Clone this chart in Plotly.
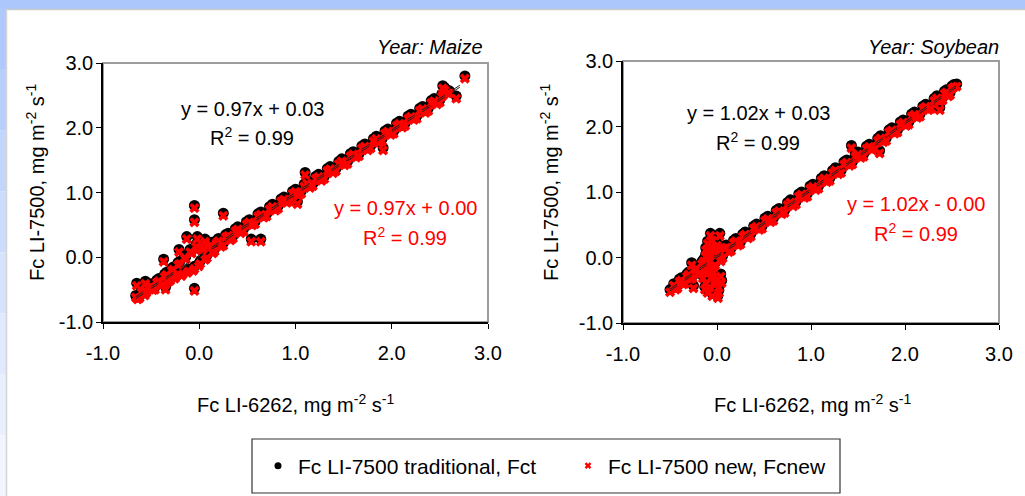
import plotly.graph_objects as go

W, H = 1025, 496

# ---------------- data ----------------
tick_vals = [-1, 0, 1, 2, 3]
tick_text = ["-1.0", "0.0", "1.0", "2.0", "3.0"]

# Maize: x = Fc LI-6262, y = Fc LI-7500 (traditional Fct and new Fcnew)
maize_x = [-0.66, -0.62, -0.58, -0.55, -0.50, -0.46, -0.42, -0.38, -0.34, -0.30,
           -0.27, -0.24, -0.20, -0.17, -0.14, -0.11, -0.08, -0.05, -0.02, 0.01,
           0.04, 0.08, 0.12, 0.16, 0.20, 0.25, 0.30, 0.35, 0.40, 0.46,
           0.52, 0.58, 0.64, 0.70, 0.76, 0.82, 0.88, 0.94, 1.00, 1.06,
           1.12, 1.18, 1.24, 1.30, 1.36, 1.42, 1.48, 1.54, 1.60, 1.66,
           1.72, 1.78, 1.84, 1.90, 1.96, 2.02, 2.08, 2.14, 2.20, 2.26,
           2.32, 2.38, 2.44, 2.50, 2.54, 2.58, 2.60,
           -0.64, -0.60, -0.565, -0.525, -0.48, -0.44, -0.40, -0.36, -0.32, -0.285,
           -0.255, -0.22, -0.185, -0.155, -0.125, -0.095, -0.065, -0.035, -0.005, 0.025,
           0.06, 0.10, 0.14, 0.18, 0.225, 0.275, 0.325, 0.375, 0.43, 0.49,
           0.55, 0.61, 0.67, 0.73, 0.79, 0.85, 0.91, 0.97, 1.03, 1.09,
           1.15, 1.21, 1.27, 1.33, 1.39, 1.45, 1.51, 1.57, 1.63, 1.69,
           1.75, 1.81, 1.87, 1.93, 1.99, 2.05, 2.11, 2.17, 2.23, 2.29,
           2.35, 2.41, 2.47, 2.52,
           -0.05, -0.05, 0.25, 0.54, 0.64, -0.05, -0.37, -0.21, -0.13, -0.02,
           0.06, -0.65, -0.56, -0.35, 2.76, 2.67, 1.91, 1.10, 1.02, 2.53, 2.55]
maize_fct = [-0.59, -0.60, -0.49, -0.52, -0.41, -0.46, -0.33, -0.39, -0.23, -0.32,
             -0.15, -0.27, -0.06, -0.22, 0.01, -0.18, 0.10, -0.14, 0.15, -0.06,
             0.17, 0.03, 0.23, 0.13, 0.29, 0.22, 0.37, 0.33, 0.47, 0.44,
             0.58, 0.55, 0.70, 0.67, 0.82, 0.79, 0.93, 0.90, 1.05, 1.02,
             1.18, 1.14, 1.28, 1.25, 1.40, 1.37, 1.52, 1.48, 1.63, 1.60,
             1.75, 1.72, 1.87, 1.83, 1.98, 1.95, 2.10, 2.07, 2.21, 2.18,
             2.33, 2.30, 2.45, 2.43, 2.55, 2.57, 2.57,
             -0.61, -0.50, -0.55, -0.43, -0.47, -0.35, -0.40, -0.26, -0.34, -0.17,
             -0.29, -0.08, -0.25, 0.03, -0.20, 0.12, -0.17, 0.20, -0.10, 0.14,
             0.00, 0.20, 0.10, 0.26, 0.20, 0.35, 0.30, 0.44, 0.41, 0.55,
             0.53, 0.67, 0.65, 0.78, 0.76, 0.90, 0.88, 1.02, 0.99, 1.13,
             1.11, 1.25, 1.22, 1.37, 1.34, 1.48, 1.46, 1.60, 1.58, 1.72,
             1.69, 1.83, 1.81, 1.95, 1.93, 2.07, 2.04, 2.18, 2.16, 2.30,
             2.27, 2.42, 2.40, 2.52,
             0.80, 0.58, 0.68, 0.28, 0.28, -0.48, -0.03, 0.12, 0.32, 0.32,
             0.28, -0.40, -0.37, -0.46, 2.80, 2.49, 1.69, 1.31, 0.86, 2.65, 2.62]
maize_fcnew = [-0.62, -0.63, -0.53, -0.55, -0.45, -0.50, -0.37, -0.42, -0.27, -0.36,
               -0.19, -0.30, -0.10, -0.26, -0.03, -0.22, 0.06, -0.18, 0.11, -0.10,
               0.13, -0.01, 0.19, 0.09, 0.25, 0.18, 0.33, 0.29, 0.43, 0.40,
               0.54, 0.51, 0.66, 0.63, 0.78, 0.75, 0.89, 0.86, 1.01, 0.98,
               1.14, 1.10, 1.24, 1.21, 1.36, 1.33, 1.48, 1.44, 1.59, 1.56,
               1.71, 1.68, 1.83, 1.79, 1.94, 1.91, 2.06, 2.03, 2.17, 2.14,
               2.29, 2.26, 2.41, 2.39, 2.51, 2.53, 2.53,
               -0.65, -0.54, -0.59, -0.47, -0.51, -0.39, -0.44, -0.30, -0.38, -0.21,
               -0.33, -0.12, -0.29, -0.01, -0.24, 0.08, -0.21, 0.16, -0.14, 0.10,
               -0.04, 0.16, 0.06, 0.22, 0.16, 0.31, 0.26, 0.40, 0.37, 0.51,
               0.49, 0.63, 0.61, 0.74, 0.72, 0.86, 0.84, 0.98, 0.95, 1.09,
               1.07, 1.21, 1.18, 1.33, 1.30, 1.44, 1.42, 1.56, 1.54, 1.68,
               1.65, 1.79, 1.77, 1.91, 1.89, 2.03, 2.00, 2.14, 2.12, 2.26,
               2.23, 2.38, 2.36, 2.48,
               0.76, 0.54, 0.64, 0.24, 0.24, -0.52, -0.07, 0.08, 0.28, 0.28,
               0.24, -0.44, -0.41, -0.50, 2.76, 2.45, 1.65, 1.27, 0.82, 2.61, 2.58]

# Soybean
soy_x = [-0.46, -0.42, -0.38, -0.34, -0.30, -0.26, -0.22, -0.18, -0.14, -0.10,
         -0.06, -0.02, 0.02, 0.06, 0.10, 0.15, 0.20, 0.25, 0.30, 0.36,
         0.42, 0.48, 0.54, 0.60, 0.66, 0.72, 0.78, 0.84, 0.90, 0.96,
         1.02, 1.08, 1.14, 1.20, 1.26, 1.32, 1.38, 1.44, 1.50, 1.56,
         1.62, 1.68, 1.74, 1.80, 1.86, 1.92, 1.98, 2.04, 2.10, 2.16,
         2.22, 2.28, 2.34, 2.40, 2.44, 2.48, 2.52, 2.55,
         -0.44, -0.40, -0.36, -0.32, -0.28, -0.24, -0.20, -0.16, -0.12, -0.08,
         -0.04, 0.00, 0.04, 0.08, 0.125, 0.175, 0.225, 0.275, 0.33, 0.39,
         0.45, 0.51, 0.57, 0.63, 0.69, 0.75, 0.81, 0.87, 0.93, 0.99,
         1.05, 1.11, 1.17, 1.23, 1.29, 1.35, 1.41, 1.47, 1.53, 1.59,
         1.65, 1.71, 1.77, 1.83, 1.89, 1.95, 2.01, 2.07, 2.13, 2.19,
         2.25, 2.31, 2.37, 2.42, 2.46, 2.50,
         -0.50, -0.07, 0.03, -0.10, 0.00, -0.05, -0.12, -0.08, -0.02, 0.02,
         -0.05, 0.01, -0.10, -0.15, -0.04, 0.04, -0.27, -0.25, 2.37, 2.46,
         1.43, 1.73, -0.08, 0.05, -0.12, -0.03,
         -0.12, -0.06, 0.03, -0.14, 0.00, -0.06, -0.10, 0.02, -0.13, 0.05]
soy_fct = [-0.40, -0.43, -0.31, -0.36, -0.22, -0.28, -0.13, -0.21, -0.02, -0.15,
           0.08, -0.08, 0.14, 0.03, 0.19, 0.14, 0.29, 0.24, 0.39, 0.36,
           0.51, 0.48, 0.63, 0.60, 0.75, 0.72, 0.88, 0.85, 1.00, 0.97,
           1.12, 1.09, 1.25, 1.21, 1.37, 1.33, 1.49, 1.46, 1.61, 1.58,
           1.73, 1.70, 1.86, 1.82, 1.98, 1.95, 2.10, 2.07, 2.22, 2.19,
           2.34, 2.31, 2.47, 2.44, 2.56, 2.52, 2.64, 2.65,
           -0.45, -0.33, -0.37, -0.25, -0.29, -0.16, -0.22, -0.06, -0.18, 0.06,
           -0.12, 0.16, -0.02, 0.18, 0.12, 0.26, 0.22, 0.36, 0.33, 0.48,
           0.46, 0.60, 0.58, 0.72, 0.70, 0.84, 0.82, 0.97, 0.95, 1.09,
           1.07, 1.21, 1.19, 1.33, 1.31, 1.46, 1.44, 1.58, 1.56, 1.70,
           1.68, 1.82, 1.80, 1.95, 1.93, 2.07, 2.05, 2.19, 2.17, 2.31,
           2.29, 2.43, 2.42, 2.54, 2.51, 2.62,
           -0.49, 0.37, 0.37, 0.25, 0.22, 0.30, -0.35, -0.42, -0.38, -0.50,
           -0.55, -0.58, -0.50, -0.28, -0.20, -0.25, -0.08, -0.43, 2.29, 2.50,
           1.71, 1.63, 0.10, 0.02, 0.05, -0.10,
           0.15, 0.20, 0.10, -0.15, -0.30, -0.28, -0.05, -0.42, -0.45, -0.35]
soy_fcnew = [-0.43, -0.47, -0.35, -0.40, -0.26, -0.32, -0.17, -0.25, -0.06, -0.19,
             0.04, -0.12, 0.10, -0.01, 0.15, 0.10, 0.25, 0.20, 0.35, 0.32,
             0.47, 0.44, 0.59, 0.56, 0.71, 0.68, 0.84, 0.81, 0.96, 0.93,
             1.08, 1.05, 1.21, 1.17, 1.33, 1.29, 1.45, 1.42, 1.57, 1.54,
             1.69, 1.66, 1.82, 1.78, 1.94, 1.91, 2.06, 2.03, 2.18, 2.15,
             2.30, 2.27, 2.43, 2.40, 2.52, 2.48, 2.60, 2.61,
             -0.49, -0.37, -0.41, -0.29, -0.33, -0.20, -0.26, -0.10, -0.22, 0.02,
             -0.16, 0.12, -0.06, 0.14, 0.08, 0.22, 0.18, 0.32, 0.29, 0.44,
             0.42, 0.56, 0.54, 0.68, 0.66, 0.80, 0.78, 0.93, 0.91, 1.05,
             1.03, 1.17, 1.15, 1.29, 1.27, 1.42, 1.40, 1.54, 1.52, 1.66,
             1.64, 1.78, 1.76, 1.91, 1.89, 2.03, 2.01, 2.15, 2.13, 2.27,
             2.25, 2.39, 2.38, 2.50, 2.47, 2.58,
             -0.53, 0.33, 0.33, 0.21, 0.18, 0.26, -0.39, -0.46, -0.42, -0.54,
             -0.59, -0.62, -0.54, -0.32, -0.24, -0.29, -0.12, -0.47, 2.25, 2.46,
             1.67, 1.59, 0.06, -0.02, 0.01, -0.14,
             0.11, 0.16, 0.06, -0.19, -0.34, -0.32, -0.09, -0.46, -0.49, -0.39]

# linear fits shown on the chart (slope, intercept)
maize_fit_fct = (0.97, 0.03)
maize_fit_fcnew = (0.97, 0.00)
soy_fit_fct = (1.02, 0.03)
soy_fit_fcnew = (1.02, -0.00)

panel_titles = ["Year: Maize", "Year: Soybean"]
eq_texts = [("y = 0.97x + 0.03", "y = 0.97x + 0.00"), ("y = 1.02x + 0.03", "y = 1.02x - 0.00")]
r2_texts = [("R<sup>2</sup> = 0.99", "R<sup>2</sup> = 0.99"), ("R<sup>2</sup> = 0.99", "R<sup>2</sup> = 0.99")]
x_title = "Fc LI-6262, mg m<sup>-2</sup> s<sup>-1</sup>"
y_title = "Fc LI-7500, mg m<sup>-2</sup> s<sup>-1</sup>"
legend_names = ["Fc LI-7500 traditional, Fct", "Fc LI-7500 new, Fcnew"]

FONT = "Liberation Sans, Arial, sans-serif"
FS = 20

def px(x):
    return x / W

def py(y):
    return 1 - y / H

fig = go.Figure()

panels = [
    (maize_x, maize_fct, maize_fcnew, maize_fit_fct, maize_fit_fcnew, "x", "y"),
    (soy_x, soy_fct, soy_fcnew, soy_fit_fct, soy_fit_fcnew, "x2", "y2"),
]
for i, (xs, yt, yn, ft, fn, xa, ya) in enumerate(panels):
    fig.add_trace(go.Scatter(x=xs, y=yt, mode="markers", name=legend_names[0],
                             marker=dict(symbol="circle", size=11, color="black"),
                             xaxis=xa, yaxis=ya, showlegend=False, legendgroup="fct"))
    fig.add_trace(go.Scatter(x=xs, y=yn, mode="markers", name=legend_names[1],
                             marker=dict(symbol="x", size=9, color="red", line=dict(width=0)),
                             xaxis=xa, yaxis=ya, showlegend=False, legendgroup="fcnew"))
    x0, x1 = min(xs), max(xs)
    for (m, b) in (ft, fn):
        fig.add_trace(go.Scatter(x=[x0, x1], y=[m * x0 + b, m * x1 + b], mode="lines",
                                 line=dict(color="#202020", width=1, dash="dash"),
                                 xaxis=xa, yaxis=ya, showlegend=False, hoverinfo="skip"))

# legend entries (small symbols, as in the original legend)
fig.add_trace(go.Scatter(x=[None], y=[None], mode="markers", name=legend_names[0],
                         marker=dict(symbol="circle", size=7, color="black"), legendgroup="fct"))
fig.add_trace(go.Scatter(x=[None], y=[None], mode="markers", name=legend_names[1],
                         marker=dict(symbol="x", size=6, color="red", line=dict(width=0)),
                         legendgroup="fcnew"))

axis_common = dict(range=[-1, 3], tickvals=tick_vals, ticktext=tick_text, ticks="outside",
                   ticklen=5, tickwidth=1, tickcolor="black", showline=True, linecolor="black",
                   linewidth=1.5, showgrid=False, zeroline=False, fixedrange=True,
                   automargin=False,
                   tickfont=dict(size=FS, color="black", family=FONT))

fig.update_layout(
    width=W, height=H, autosize=False,
    margin=dict(l=0, r=0, t=0, b=0, pad=0, autoexpand=False),
    paper_bgcolor="white", plot_bgcolor="white",
    font=dict(family=FONT, size=FS, color="black"),
    xaxis=dict(axis_common, domain=[px(103), px(488)], anchor="y", ticklabelstandoff=7),
    yaxis=dict(axis_common, domain=[py(322), py(63)], anchor="x", ticklabelstandoff=-1),
    xaxis2=dict(axis_common, domain=[px(623), px(999)], anchor="y2", ticklabelstandoff=7),
    yaxis2=dict(axis_common, domain=[py(323), py(61)], anchor="x2", ticklabelstandoff=-1),
    legend=dict(orientation="h", x=px(258), xanchor="left", y=py(466), yanchor="middle",
                font=dict(size=21, family=FONT, color="black"), bgcolor="rgba(0,0,0,0)",
                borderwidth=0, entrywidth=265, itemclick=False, itemdoubleclick=False),
)

shapes = []
# blue window frame
shapes.append(dict(type="rect", xref="paper", yref="paper", x0=0, x1=1, y0=py(9), y1=1,
                   fillcolor="#ABC7FC", line=dict(width=0), layer="below"))
strip_cols = ["#AFC9FC", "#B8CFFC", "#C2D6FC", "#CCDCFC", "#D6E3FC", "#E0E9FD", "#E9EFFD", "#F1F5FE"]
n = len(strip_cols)
for k, c in enumerate(strip_cols):
    shapes.append(dict(type="rect", xref="paper", yref="paper", x0=0, x1=px(6),
                       y0=py(9) * (1 - (k + 1) / n), y1=py(9) * (1 - k / n),
                       fillcolor=c, line=dict(width=0), layer="below"))
shapes.append(dict(type="line", xref="paper", yref="paper", x0=px(6), x1=1, y0=py(9.5), y1=py(9.5),
                   line=dict(color="#C9C9C9", width=1.5), layer="below"))
shapes.append(dict(type="line", xref="paper", yref="paper", x0=px(6.5), x1=px(6.5), y0=0, y1=py(9),
                   line=dict(color="#D4D4D4", width=1.5), layer="below"))
# grey frames of plot areas
for xr, yr in (("x domain", "y domain"), ("x2 domain", "y2 domain")):
    shapes.append(dict(type="rect", xref=xr, yref=yr, x0=0, x1=1, y0=0, y1=1,
                       line=dict(color="#9C9C9C", width=2), layer="below"))
# legend box
shapes.append(dict(type="rect", xref="paper", yref="paper", x0=px(252), x1=px(840),
                   y0=py(493), y1=py(439), line=dict(color="#333333", width=1.2),
                   fillcolor="rgba(0,0,0,0)", layer="below"))
fig.update_layout(shapes=shapes)

ann = []
def add_text(x, y, text, size=FS, color="black", xanchor="center", angle=0, italic=False):
    t = f"<i>{text}</i>" if italic else text
    ann.append(dict(x=px(x), y=py(y), xref="paper", yref="paper", text=t, showarrow=False,
                    xanchor=xanchor, yanchor="middle", textangle=angle,
                    font=dict(size=size, color=color, family=FONT)))

add_text(485, 47, panel_titles[0], xanchor="right", italic=True)
add_text(1001, 47, panel_titles[1], xanchor="right", italic=True)
# equations
add_text(252, 109, eq_texts[0][0])
add_text(252, 137, r2_texts[0][0])
add_text(405, 208, eq_texts[0][1], color="red")
add_text(405, 236, r2_texts[0][1], color="red")
add_text(758, 113, eq_texts[1][0])
add_text(758, 141, r2_texts[1][0])
add_text(916, 204, eq_texts[1][1], color="red")
add_text(916, 232, r2_texts[1][1], color="red")
# axis titles
add_text(295, 403, x_title)
add_text(812, 403, x_title)
add_text(36, 183, y_title, angle=-90)
add_text(550, 183, y_title, angle=-90)
fig.update_layout(annotations=ann)

fig.write_html("out.html", config={"displayModeBar": False, "staticPlot": False},
               post_script="document.body.style.margin='0';document.body.style.overflow='hidden';")
